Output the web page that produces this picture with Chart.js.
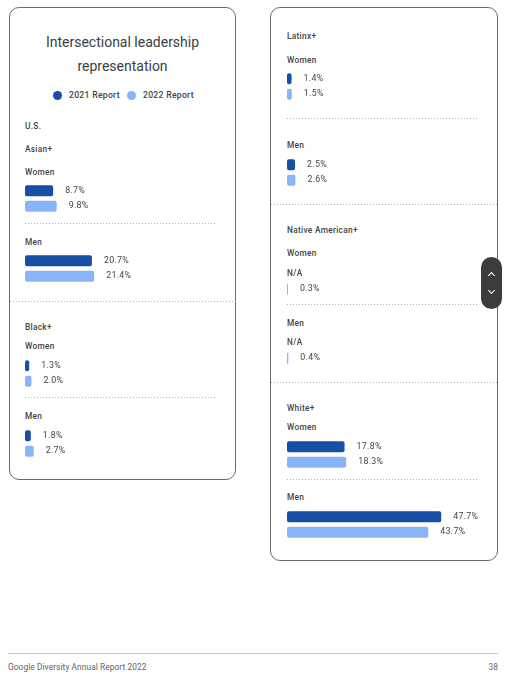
<!DOCTYPE html>
<html>
<head>
<meta charset="utf-8">
<script src="https://cdn.jsdelivr.net/npm/chart.js@4"></script>
<style>
  html, body { margin: 0; padding: 0; background: #fff; }
  body { width: 520px; height: 680px; position: relative; overflow: hidden;
         font-family: Roboto, "Noto Sans", sans-serif; color: #3c4043; }
  .card { position: absolute; box-sizing: border-box; border: 1px solid #6a6a6a; border-radius: 10px; }
  .t { position: absolute; line-height: 12px; font-size: 8.3px; font-weight: 500; white-space: nowrap;
       letter-spacing: 0.3px; color: #444; }
  .dots { position: absolute; height: 1px;
          background-image: linear-gradient(to right, #b4b4b4 1px, transparent 1px);
          background-size: 3px 1px; }
  canvas { position: absolute; }
  .title { position: absolute; left: 9px; width: 227px; top: 30px; text-align: center;
           font-size: 14px; line-height: 24px; font-weight: 400; color: #3c4043; }
  .dot { position: absolute; width: 9px; height: 9px; border-radius: 50%; }
  .pill { position: absolute; left: 481px; top: 257px; width: 21px; height: 52px;
          border-radius: 11px; background: #3c3c3c; }
  .chev { position: absolute; left: 8px; width: 4px; height: 4px;
          border-left: 1.5px solid #fff; border-top: 1.5px solid #fff; }
  .foot { font-size: 8.3px; font-weight: 400; color: #5f6368; letter-spacing: 0.1px; }
</style>
</head>
<body>
<div class="card" style="left:9px; top:7px; width:227px; height:473px;"></div>
<div class="card" style="left:270px; top:7px; width:228px; height:554px;"></div>

<div class="title">Intersectional leadership<br>representation</div>
<div class="dot" style="left:52.5px; top:90.5px; background:#174ea6;"></div>
<div class="t" id="leg0" style="left:69px; top:89px; font-size:8.6px;"></div>
<div class="dot" style="left:126.5px; top:90.5px; background:#8ab4f8;"></div>
<div class="t" id="leg1" style="left:143px; top:89px; font-size:8.6px;"></div>

<!-- left card -->
<div class="t" style="left:25px; top:120px;">U.S.</div>
<div class="t" data-group="0" style="left:25px; top:143px;"></div>
<div class="t" style="left:25px; top:166px;">Women</div>
<canvas id="w0" width="194" height="31" style="left:25px; top:183px;"></canvas>
<div class="dots" style="left:25px; top:223px; width:192px;"></div>
<div class="t" style="left:25px; top:236px;">Men</div>
<canvas id="m0" width="194" height="31" style="left:25px; top:253px;"></canvas>
<div class="dots" style="left:10px; top:301px; width:226px;"></div>
<div class="t" data-group="1" style="left:25px; top:321px;"></div>
<div class="t" style="left:25px; top:340px;">Women</div>
<canvas id="w1" width="194" height="31" style="left:25px; top:358px;"></canvas>
<div class="dots" style="left:25px; top:397px; width:192px;"></div>
<div class="t" style="left:25px; top:410px;">Men</div>
<canvas id="m1" width="194" height="31" style="left:25px; top:428px;"></canvas>

<!-- right card -->
<div class="t" data-group="2" style="left:287px; top:30px;"></div>
<div class="t" style="left:287px; top:54px;">Women</div>
<canvas id="w2" width="194" height="31" style="left:287px; top:71px;"></canvas>
<div class="dots" style="left:287px; top:118px; width:192px;"></div>
<div class="t" style="left:287px; top:139px;">Men</div>
<canvas id="m2" width="194" height="31" style="left:287px; top:157px;"></canvas>
<div class="dots" style="left:271px; top:204px; width:226px;"></div>
<div class="t" data-group="3" style="left:287px; top:224px;"></div>
<div class="t" style="left:287px; top:247px;">Women</div>
<canvas id="w3" width="194" height="31" style="left:287px; top:266px;"></canvas>
<div class="dots" style="left:287px; top:304px; width:192px;"></div>
<div class="t" style="left:287px; top:317px;">Men</div>
<canvas id="m3" width="194" height="31" style="left:287px; top:335px;"></canvas>
<div class="dots" style="left:271px; top:382px; width:226px;"></div>
<div class="t" data-group="4" style="left:287px; top:402px;"></div>
<div class="t" style="left:287px; top:421px;">Women</div>
<canvas id="w4" width="194" height="31" style="left:287px; top:439px;"></canvas>
<div class="dots" style="left:287px; top:479px; width:192px;"></div>
<div class="t" style="left:287px; top:491px;">Men</div>
<canvas id="m4" width="194" height="31" style="left:287px; top:509px;"></canvas>

<div class="pill">
  <div class="chev" style="top:16px; transform:rotate(45deg);"></div>
  <div class="chev" style="top:31px; transform:rotate(225deg);"></div>
</div>

<div style="position:absolute; left:8px; top:653px; width:490px; height:1px; background:#c8c8c8;"></div>
<div class="t foot" style="left:8px; top:661px;">Google Diversity Annual Report 2022</div>
<div class="t foot" style="right:22px; top:661px;">38</div>

<script>
const groups = ['Asian+', 'Black+', 'Latinx+', 'Native American+', 'White+'];
const seriesNames = ['2021 Report', '2022 Report'];
const seriesColors = ['#174ea6', '#8ab4f8'];
// null = N/A in the report
const women2021 = [8.7, 1.3, 1.4, null, 17.8];
const women2022 = [9.8, 2.0, 1.5, 0.3, 18.3];
const men2021 = [20.7, 1.8, 2.5, null, 47.7];
const men2022 = [21.4, 2.7, 2.6, 0.4, 43.7];

document.getElementById('leg0').textContent = seriesNames[0];
document.getElementById('leg1').textContent = seriesNames[1];
document.querySelectorAll('[data-group]').forEach(el => {
    el.textContent = groups[+el.dataset.group];
});

// writes "8.7%" after each bar, or "N/A" where the value is missing
const valueLabels = {
    id: 'valueLabels',
    afterDatasetsDraw(chart) {
        const ctx = chart.ctx;
        ctx.save();
        ctx.fillStyle = '#444';
        ctx.textBaseline = 'middle';
        ctx.letterSpacing = '0.3px';
        chart.data.datasets.forEach((ds, i) => {
            const bar = chart.getDatasetMeta(i).data[0];
            const v = ds.data[0];
            if (v === null) {
                ctx.font = '500 8.3px Roboto';
                ctx.fillText('N/A', chart.chartArea.left, bar.y);
            } else {
                ctx.font = '400 8.8px Roboto';
                ctx.fillText(v.toFixed(1) + '%', bar.x + 12, bar.y);
            }
        });
        ctx.restore();
    }
};

function makeChart(id, v21, v22) {
    return new Chart(document.getElementById(id), {
        type: 'bar',
        data: {
            labels: [''],
            datasets: [v21, v22].map((v, i) => ({
                label: seriesNames[i],
                data: [v],
                backgroundColor: seriesColors[i],
                borderRadius: 2,
                borderSkipped: false,
                categoryPercentage: 1,
                barPercentage: 0.71,
            })),
        },
        options: {
            indexAxis: 'y',
            responsive: false,
            animation: false,
            layout: { padding: 0 },
            scales: {
                x: { min: 0, max: 60, display: false },
                y: { display: false },
            },
            plugins: {
                legend: { display: false },
                tooltip: { enabled: false },
            },
        },
        plugins: [valueLabels],
    });
}

groups.forEach((g, i) => {
    makeChart('w' + i, women2021[i], women2022[i]);
    makeChart('m' + i, men2021[i], men2022[i]);
});
</script>
</body>
</html>
